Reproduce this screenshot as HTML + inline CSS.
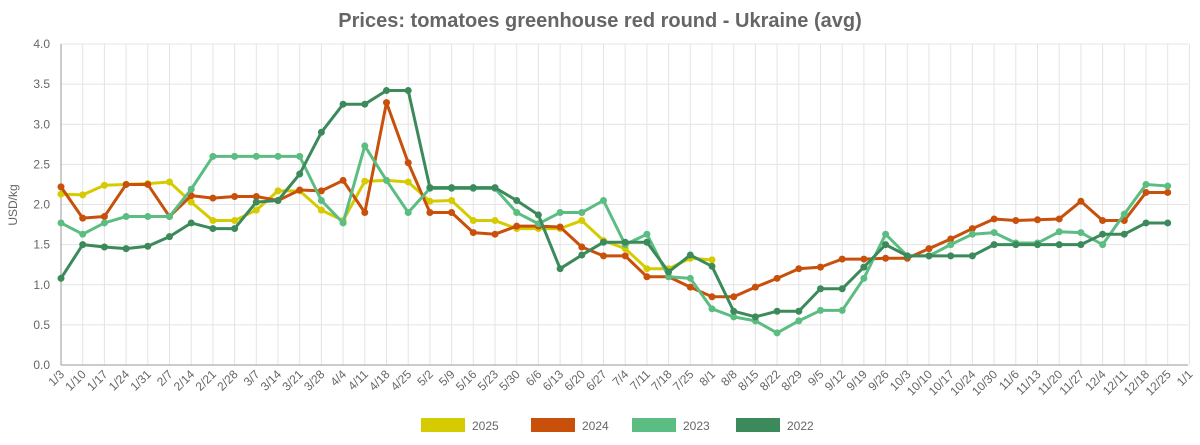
<!DOCTYPE html>
<html><head><meta charset="utf-8"><style>
body{margin:0;background:#fff;width:1200px;height:440px;overflow:hidden;font-family:"Liberation Sans",sans-serif}
</style></head><body>
<svg id="c" width="1200" height="440" xmlns="http://www.w3.org/2000/svg"></svg>
<script>
const X0=61,ST=21.7,Y0=365,SY=80.25;
const x=i=>X0+i*ST, y=v=>Y0-v*SY;
const labels=["1/3","1/10","1/17","1/24","1/31","2/7","2/14","2/21","2/28","3/7","3/14","3/21","3/28","4/4","4/11","4/18","4/25","5/2","5/9","5/16","5/23","5/30","6/6","6/13","6/20","6/27","7/4","7/11","7/18","7/25","8/1","8/8","8/15","8/22","8/29","9/5","9/12","9/19","9/26","10/3","10/10","10/17","10/24","10/30","11/6","11/13","11/20","11/27","12/4","12/11","12/18","12/25","1/1"];
const S=[
["2025","#d6cb00",[2.13,2.12,2.24,2.25,2.26,2.28,2.03,1.80,1.80,1.93,2.17,2.17,1.93,1.80,2.29,2.30,2.28,2.04,2.05,1.80,1.80,1.70,1.70,1.70,1.80,1.55,1.45,1.20,1.20,1.33,1.31]],
["2024","#c8500a",[2.22,1.83,1.85,2.25,2.25,1.85,2.11,2.08,2.10,2.10,2.05,2.18,2.17,2.30,1.90,3.27,2.52,1.90,1.90,1.65,1.63,1.73,1.73,1.72,1.47,1.36,1.36,1.10,1.10,0.97,0.85,0.85,0.97,1.08,1.20,1.22,1.32,1.32,1.33,1.33,1.45,1.57,1.70,1.82,1.80,1.81,1.82,2.04,1.80,1.80,2.15,2.15]],
["2023","#5cbd82",[1.77,1.63,1.77,1.85,1.85,1.85,2.19,2.60,2.60,2.60,2.60,2.60,2.05,1.77,2.73,2.30,1.90,2.20,2.20,2.20,2.20,1.90,1.76,1.90,1.90,2.05,1.50,1.63,1.10,1.08,0.70,0.60,0.55,0.40,0.55,0.68,0.68,1.08,1.63,1.36,1.36,1.50,1.63,1.65,1.52,1.52,1.66,1.65,1.50,1.88,2.25,2.23]],
["2022","#3c8a5b",[1.08,1.50,1.47,1.45,1.48,1.60,1.77,1.70,1.70,2.03,2.05,2.38,2.90,3.25,3.25,3.42,3.42,2.21,2.21,2.21,2.21,2.05,1.87,1.20,1.37,1.53,1.53,1.53,1.16,1.37,1.23,0.67,0.60,0.67,0.67,0.95,0.95,1.22,1.50,1.36,1.36,1.36,1.36,1.50,1.50,1.50,1.50,1.50,1.63,1.63,1.77,1.77]]];
let h='<text x="600" y="27" text-anchor="middle" font-size="20" font-weight="bold" fill="#666">Prices: tomatoes greenhouse red round - Ukraine (avg)</text>';
for(let k=0;k<=8;k++){const v=k*0.5,yy=y(v);h+=`<line x1="${X0}" x2="1188" y1="${yy}" y2="${yy}" stroke="#e4e4e4"/>`;h+=`<text x="50" y="${yy+4}" text-anchor="end" font-size="12" fill="#666">${v.toFixed(1)}</text>`;}
labels.forEach((l,i)=>{const xx=x(i);h+=`<line x1="${xx}" x2="${xx}" y1="${y(4)}" y2="${Y0}" stroke="#e4e4e4"/>`;h+=`<text transform="translate(${xx+4},${Y0+10}) rotate(-45)" text-anchor="end" font-size="12" fill="#666">${l}</text>`;});
h+=`<line x1="${X0}" x2="${X0}" y1="${y(4)}" y2="${Y0}" stroke="#999"/><line x1="${X0}" x2="1188" y1="${Y0}" y2="${Y0}" stroke="#999"/>`;
h+='<text transform="translate(17,205) rotate(-90)" text-anchor="middle" font-size="12" fill="#666">USD/kg</text>';
S.forEach(s=>{const p=s[2].map((v,i)=>x(i)+','+y(v)).join(' ');h+=`<polyline points="${p}" fill="none" stroke="${s[1]}" stroke-width="3" stroke-linejoin="round"/>`;s[2].forEach((v,i)=>h+=`<circle cx="${x(i)}" cy="${y(v)}" r="3.5" fill="${s[1]}"/>`);});
const lx=[421,531,632,736];
S.forEach((s,k)=>{h+=`<rect x="${lx[k]}" y="418" width="44" height="14" fill="${s[1]}"/><text x="${lx[k]+51}" y="430" font-size="12" fill="#666">${s[0]}</text>`;});
document.getElementById('c').innerHTML=h;
</script>
</body></html>
